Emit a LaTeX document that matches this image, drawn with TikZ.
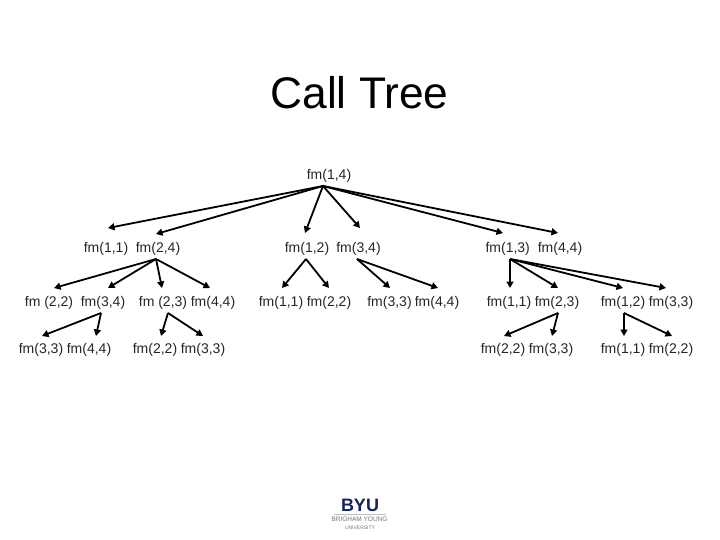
\documentclass[tikz,border=0pt]{standalone}
\usepackage{fontspec}
\setmainfont{Liberation Sans}
\usetikzlibrary{arrows.meta}
\definecolor{byunavy}{RGB}{20,35,90}
\tikzset{
  callnode/.style={inner xsep=0pt,inner ysep=5.75pt,outer sep=0pt,text height=11.5pt,text depth=1pt,font=\fontsize{14}{16}\selectfont,text=black!85},
  callarrow/.style={line width=1.8pt,draw=black,-{Triangle[length=6.5pt,width=7pt]}},
  logotext/.style={inner sep=0pt,text=black!55,font=\fontsize{6.5}{7}\selectfont\rmfamily}
}
\newcommand{\conn}[5]{\draw[callarrow] ([xshift=#2pt]#1.south) -- ([xshift=#4pt,yshift=#5pt]#3.north);}
\begin{document}
\begin{tikzpicture}[x=1pt,y=-1pt]
\useasboundingbox (0,0) rectangle (720,540);
\node[inner sep=0pt,font=\fontsize{44.3}{48}\selectfont,text=black] (title) at (359.5,93) {Call Tree};
\node[callnode] (root) at (329,174) {fm(1,4)};
% row 2
\node[callnode] (a11) at (106,247) {fm(1,1)};
\node[callnode] (a24) at (158,247) {fm(2,4)};
\node[callnode] (b12) at (307,247) {fm(1,2)};
\node[callnode] (b34) at (358.5,247) {fm(3,4)};
\node[callnode] (c13) at (507.7,247) {fm(1,3)};
\node[callnode] (c44) at (560,247) {fm(4,4)};
% row 3
\node[callnode] (d22) at (49,301) {fm (2,2)};
\node[callnode] (d34) at (103,301) {fm(3,4)};
\node[callnode] (d23) at (163,301) {fm (2,3)};
\node[callnode] (d44) at (213,301) {fm(4,4)};
\node[callnode] (e11) at (281,301) {fm(1,1)};
\node[callnode] (e22) at (329,301) {fm(2,2)};
\node[callnode] (f33) at (389.5,301) {fm(3,3)};
\node[callnode] (f44) at (437,301) {fm(4,4)};
\node[callnode] (g11) at (509,301) {fm(1,1)};
\node[callnode] (g23) at (557,301) {fm(2,3)};
\node[callnode] (h12) at (623,301) {fm(1,2)};
\node[callnode] (h33) at (671,301) {fm(3,3)};
% row 4
\node[callnode] (i33) at (41,348) {fm(3,3)};
\node[callnode] (i44) at (89,348) {fm(4,4)};
\node[callnode] (j22) at (155,348) {fm(2,2)};
\node[callnode] (j33) at (203,348) {fm(3,3)};
\node[callnode] (k22) at (503,348) {fm(2,2)};
\node[callnode] (k33) at (551,348) {fm(3,3)};
\node[callnode] (l11) at (623,348) {fm(1,1)};
\node[callnode] (l22) at (671,348) {fm(2,2)};
% connectors
\conn{root}{-6}{a11}{2}{7}
\conn{root}{-6}{a24}{-2}{1}
\conn{root}{-6}{b12}{-2}{2}
\conn{root}{-6}{b34}{1.5}{7}
\conn{root}{-6}{c13}{-4.7}{2}
\conn{root}{-6}{c44}{-2}{2}
\conn{a24}{-2}{d22}{5}{1}
\conn{a24}{-2}{d34}{5}{1}
\conn{a24}{-2}{d23}{-1}{1}
\conn{a24}{-2}{d44}{-3}{1}
\conn{b12}{-1}{e11}{1}{1}
\conn{b12}{-1}{e22}{0}{1}
\conn{b34}{-1.5}{f33}{0.5}{1}
\conn{b34}{-1.5}{f44}{1}{1}
\conn{c13}{2.3}{g11}{1}{1}
\conn{c13}{2.3}{g23}{1}{1}
\conn{c13}{2.3}{h12}{0}{1}
\conn{c13}{2.3}{h33}{-5}{1}
\conn{d34}{-2}{i33}{1}{0}
\conn{d34}{-2}{i44}{7}{0}
\conn{d23}{5}{j22}{6}{0}
\conn{d23}{5}{j33}{0}{0}
\conn{g23}{1}{k22}{1}{0}
\conn{g23}{1}{k33}{1}{0}
\conn{h12}{1}{l11}{1}{0}
\conn{h12}{1}{l22}{1}{0}
% logo
\node[inner sep=0pt,text=byunavy,font=\fontsize{18}{18}\selectfont\bfseries] (byu) at (360,505) {BYU};
\draw[black!25,line width=0.4pt] (334,514.5) -- (386,514.5);
\node[logotext] (bname) at (359.5,519.5) {BRIGHAM YOUNG};
\node[logotext,font=\fontsize{5}{6}\selectfont\rmfamily] (buni) at (360,528) {UNIVERSITY};
\end{tikzpicture}
\end{document}
